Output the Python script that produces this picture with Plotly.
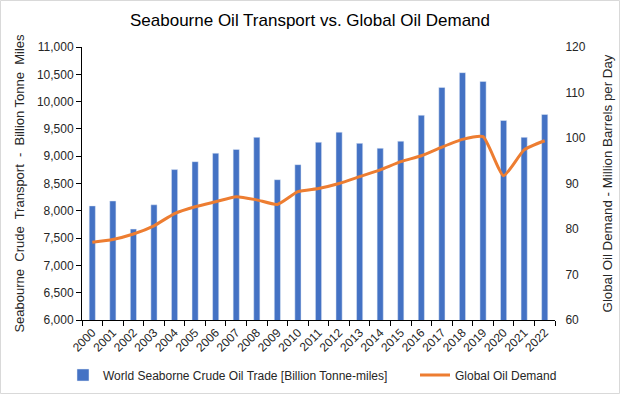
import plotly.graph_objects as go

years = [str(y) for y in range(2000, 2023)]
seaborne_trade = [8090, 8180, 7665, 8110, 8755, 8900, 9055, 9125, 9345, 8570, 8845,
                  9255, 9440, 9235, 9145, 9275, 9750, 10260, 10530, 10370, 9655, 9345, 9765]
oil_demand = [77.1, 77.7, 78.9, 80.7, 83.4, 84.9, 86.0, 87.1, 86.4, 85.4, 88.2,
              88.9, 90.0, 91.5, 93.0, 94.8, 96.1, 98.0, 99.7, 100.3, 91.7, 97.4, 99.4]

font_family = "Liberation Sans, Arial, sans-serif"
text_color = "#262626"

L, R, T, B = 82, 65, 47, 74
W, H = 620, 394
PW, PH = W - L - R, H - T - B
LEG_Y = -(375 - (T + PH)) / PH

fig = go.Figure()
fig.add_trace(go.Bar(
    x=years, y=seaborne_trade,
    name="World Seaborne Crude Oil Trade [Billion Tonne-miles]",
    marker_color="#4472C4", yaxis="y", legend="legend",
))
fig.add_trace(go.Scatter(
    x=years, y=oil_demand, name="Global Oil Demand",
    mode="lines", line=dict(color="#ED7D31", width=3, shape="spline", smoothing=0.5),
    yaxis="y2", legend="legend2",
))

leg_common = dict(orientation="h", yanchor="middle", y=LEG_Y, xanchor="left",
                  font=dict(size=12, color=text_color), itemwidth=30,
                  bgcolor="rgba(0,0,0,0)")

fig.update_layout(
    width=W, height=H,
    margin=dict(l=L, r=R, t=T, b=B, autoexpand=False),
    paper_bgcolor="white", plot_bgcolor="white",
    font=dict(family=font_family, size=12, color=text_color),
    title=dict(text="Seabourne Oil Transport vs. Global Oil Demand",
               x=0.5, xanchor="center", y=0.95, yanchor="middle",
               font=dict(size=17, color="#000000")),
    bargap=0.7,
    showlegend=True,
    legend=dict(x=(63 - L) / PW, **leg_common),
    legend2=dict(x=(415 - L) / PW, **leg_common),
    xaxis=dict(type="category", tickangle=-45, showline=True, linecolor="#000000",
               linewidth=1, ticks="outside", ticklen=5, tickcolor="#000000",
               tickson="boundaries", showgrid=False, tickfont=dict(size=12),
               automargin=False),
    yaxis=dict(range=[6000, 11000], dtick=500, tickformat=",", showline=True,
               linecolor="#000000", linewidth=1, ticks="outside", ticklen=5,
               tickcolor="#000000", showgrid=False, zeroline=False, automargin=False,
               title=dict(text="Seabourne\u00a0 Crude\u00a0 Transport\u00a0 -\u00a0 Billion Tonne\u00a0 Miles",
                          font=dict(size=13), standoff=9)),
    yaxis2=dict(range=[60, 120], dtick=10, overlaying="y", side="right",
                showline=False, showgrid=False, zeroline=False, automargin=False,
                ticks="outside", ticklen=7, tickcolor="rgba(0,0,0,0)",
                title=dict(text="Global Oil Demand - Million Barrels per Day",
                           font=dict(size=13.3), standoff=17)),
)

fig.add_shape(type="rect", xref="paper", yref="paper",
              x0=(0.5 - L) / PW, x1=(W - 0.5 - L) / PW,
              y0=-(B - 0.5) / PH, y1=(PH + T - 0.5) / PH,
              line=dict(color="#D9D9D9", width=1), fillcolor="rgba(0,0,0,0)", layer="below")

fig.write_html("out.html", config={"displayModeBar": False},
               post_script="document.body.style.margin='0';document.body.style.overflow='hidden';")
